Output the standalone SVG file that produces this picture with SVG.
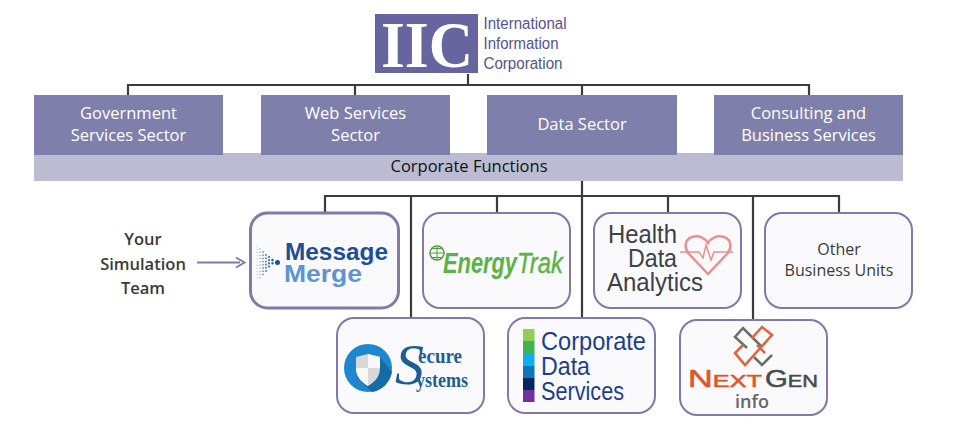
<svg xmlns="http://www.w3.org/2000/svg" width="958" height="429" viewBox="0 0 958 429">
<style>
text{font-family:"Open Sans","Noto Sans","Liberation Sans",sans-serif}
.s{font-size:16.5px;fill:#fff;text-anchor:middle}
.sec{fill:#7f7fab}
.l{fill:none;stroke:#3b3b3b;stroke-width:2.2}
.b{fill:#fafafc;stroke:#8079aa;stroke-width:2}
.dk{font-size:16.5px;fill:#3a3a3a;text-anchor:middle}
.ser{font-family:"Liberation Serif",serif}
.ar{font-family:"Liberation Sans",sans-serif}
.d{fill:none;stroke-linecap:round;stroke-dasharray:0 3.200}
</style>
<rect width="958" height="429" fill="#fff"/>
<g id="connectors">
<path class="l" d="M468 74V85M128 95V85H809V95M355 85V95M582 85V318M325 212V196H839V212M411 196V318M497 196V212M668 196V212M753 196V320"/>
<path d="M197 262.500H240" fill="none" stroke="#8079aa" stroke-width="2"/>
<path d="M236 257.500L244.500 262.500L236 267.500" fill="none" stroke="#8079aa" stroke-width="2"/>
</g>
<g id="corporate-functions"><rect x="34" y="153" width="869" height="28" fill="#bbbbd2"/><rect x="487" y="153" width="190" height="2" fill="#7f7fab"/><text x="469" y="171.500" font-size="16" fill="#111" text-anchor="middle" textLength="157" lengthAdjust="spacingAndGlyphs">Corporate Functions</text></g>
<g id="iic-logo">
<rect x="375" y="14" width="103" height="59" fill="#66659f"/>
<text class="ser" x="381" y="67" font-weight="bold" font-size="66" fill="#fff" textLength="92" lengthAdjust="spacingAndGlyphs">IIC</text>
<g font-size="16" fill="#55538a"><text class="ar" x="483.500" y="28.500" textLength="83" lengthAdjust="spacingAndGlyphs">International</text><text class="ar" x="483.500" y="49" textLength="75" lengthAdjust="spacingAndGlyphs">Information</text><text class="ar" x="483.500" y="69" textLength="79" lengthAdjust="spacingAndGlyphs">Corporation</text></g>
</g>
<g id="government"><rect class="sec" x="34" y="95" width="189" height="60"/><text class="s" x="128.500" y="119">Government</text><text class="s" x="128.500" y="141">Services Sector</text></g>
<g id="web"><rect class="sec" x="261" y="95" width="189" height="60"/><text class="s" x="355.500" y="119">Web Services</text><text class="s" x="355.500" y="141">Sector</text></g>
<g id="data"><rect class="sec" x="487" y="95" width="190" height="60"/><text class="s" x="582" y="130">Data Sector</text></g>
<g id="consulting"><rect class="sec" x="714" y="95" width="189" height="60"/><text class="s" x="808.500" y="119">Consulting and</text><text class="s" x="808.500" y="141">Business Services</text></g>
<g id="team"><text class="dk" x="143" y="245" font-weight="600">Your</text><text class="dk" x="143" y="270" font-weight="600">Simulation</text><text class="dk" x="143" y="294" font-weight="600">Team</text></g>
<g id="message-merge">
<rect class="b" x="250.500" y="213" width="148" height="95" rx="17" style="stroke-width:3"/>
<g class="d">
<path class="d" d="M257 246V281" stroke="#a9c0e2" stroke-width="1.200"/>
<path class="d" d="M260 249V278" stroke="#8aa9d8" stroke-width="1.500"/>
<path class="d" d="M263 252V275" stroke="#6f93cc" stroke-width="1.800"/>
<path class="d" d="M266 255V272" stroke="#5580bd" stroke-width="2"/>
<path class="d" d="M269 257V269" stroke="#3d6cae" stroke-width="2.200"/>
<path class="d" d="M272.500 260V266" stroke="#2b5ca2" stroke-width="2.500"/>
</g>
<circle cx="277.500" cy="262.500" r="2.500" fill="#1d4e96"/>
<text class="ar" x="285" y="260" font-size="24" font-weight="bold" fill="#1d4e96" textLength="103" lengthAdjust="spacingAndGlyphs">Message</text>
<text class="ar" x="284" y="282" font-size="24" font-weight="bold" fill="#5e94d4" textLength="78" lengthAdjust="spacingAndGlyphs">Merge</text>
</g>
<g id="energytrak">
<rect class="b" x="423" y="213" width="147" height="95" rx="17"/>
<circle cx="437" cy="253" r="7" fill="none" stroke="#4f9e3f" stroke-width="1.500"/><path d="M430 253H444M437 246V260M432 248.500H442M432 257.500H442" stroke="#4f9e3f" stroke-width="1" fill="none"/>
<text class="ar" x="443" y="273" font-size="29" font-weight="bold" font-style="italic" fill="#5ab345" textLength="74" lengthAdjust="spacingAndGlyphs">Energy</text>
<text class="ar" x="517" y="273" font-size="29" font-style="italic" fill="#5ab345" stroke="#5ab345" stroke-width=".4" textLength="46" lengthAdjust="spacingAndGlyphs">Trak</text>
</g>
<g id="health">
<rect class="b" x="594" y="213" width="147" height="95" rx="17"/>
<g font-size="26" fill="#404048"><text class="ar" x="608" y="243" textLength="69" lengthAdjust="spacingAndGlyphs">Health</text><text class="ar" x="628" y="267" textLength="49" lengthAdjust="spacingAndGlyphs">Data</text><text class="ar" x="607" y="291" textLength="96" lengthAdjust="spacingAndGlyphs">Analytics</text></g>
<path d="M708 274L689 254C684 248 684 240 692 237C699 235 705 238 708 243C711 238 717 235 724 237C732 240 732 248 727 254Z" fill="none" stroke="#ec8f8f" stroke-width="2.500"/>
<path d="M680 252H699L703 258L706 245L711 260L714 252H733" fill="none" stroke="#ec8f8f" stroke-width="1.500"/>
</g>
<g id="other">
<rect class="b" x="765" y="213" width="147" height="95" rx="17"/>
<text class="dk" x="839" y="255" style="font-size:16px">Other</text><text class="dk" x="839" y="276" style="font-size:16px">Business Units</text>
</g>
<g id="secure">
<rect class="b" x="337" y="318" width="147" height="95" rx="17"/>
<circle cx="368" cy="368" r="24" fill="#1f87cf"/>
<path d="M357 378L372 392C382 391 390 382 392 372L380 357Z" fill="#156ba8"/>
<path d="M380 357V368C380 378 373 383 368 386C363 383 356 378 356 368V357L368 354Z" fill="#d8d8d8"/>
<path d="M368 354L380 357V368H368ZM368 368V386C363 383 356 378 356 368H368Z" fill="#f8f8f8"/>
<text class="ser" x="395" y="384" font-size="56" font-style="italic" fill="#1d5f94" textLength="29" lengthAdjust="spacingAndGlyphs">S</text>
<text class="ser" x="418" y="363" font-size="20" fill="#1d5f94" font-weight="bold" textLength="44" lengthAdjust="spacingAndGlyphs">ecure</text>
<text class="ser" x="416" y="387" font-size="20" fill="#1d5f94" font-weight="bold" textLength="52" lengthAdjust="spacingAndGlyphs">ystems</text>
</g>
<g id="corporate-data">
<rect class="b" x="508" y="318" width="147" height="95" rx="17"/>
<rect x="523" y="329" width="11.500" height="12" fill="#92cd58"/><rect x="523" y="341" width="11.500" height="13" fill="#41b34c"/><rect x="523" y="354" width="11.500" height="12" fill="#10aeef"/><rect x="523" y="366" width="11.500" height="12" fill="#0f75bd"/><rect x="523" y="378" width="11.500" height="12" fill="#04265f"/><rect x="523" y="390" width="11.500" height="12" fill="#7030a0"/>
<g font-size="26" fill="#1d3f8a"><text class="ar" x="541" y="350" textLength="105" lengthAdjust="spacingAndGlyphs">Corporate</text><text class="ar" x="541" y="375" textLength="49" lengthAdjust="spacingAndGlyphs">Data</text><text class="ar" x="541" y="400" textLength="83" lengthAdjust="spacingAndGlyphs">Services</text></g>
</g>
<g id="nextgen">
<rect class="b" x="680" y="320" width="147" height="95" rx="17"/>
<path d="M747 348L735 337L743 328L762 347M772 355L762 365L754 357" fill="none" stroke="#6b6b6b" stroke-width="2.500"/>
<path d="M752 338L762 327L772 335L745 365L735 353L743 345M757 345L765 353" fill="none" stroke="#e0643a" stroke-width="2.500"/>
<text class="ar" x="688" y="387" font-size="17" fill="#e0552a" textLength="74" lengthAdjust="spacingAndGlyphs" stroke="#e0552a" stroke-width=".5"><tspan font-size="23">N</tspan>EXT</text>
<text class="ar" x="765" y="387" font-size="17" fill="#4a4a4a" textLength="53" lengthAdjust="spacingAndGlyphs" stroke="#4a4a4a" stroke-width=".5"><tspan font-size="23">G</tspan>EN</text>
<text x="752" y="408" font-size="18" fill="#666" text-anchor="middle" font-weight="600">info</text>
</g>
</svg>
